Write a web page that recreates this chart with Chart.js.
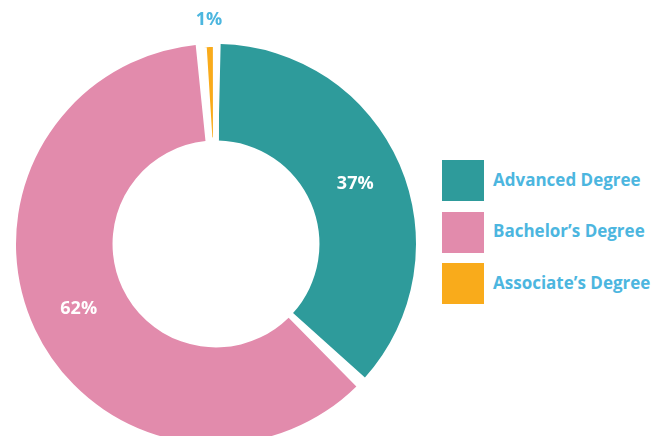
<!DOCTYPE html>
<html lang="en">
<head>
  <meta charset="UTF-8" />
  <title>Degree chart</title>
  <script src="https://cdn.jsdelivr.net/npm/chart.js"></script>
  <style>
    body {
      margin: 0;
      width: 667px;
      height: 436px;
      overflow: hidden;
      background: #fff;
      font-family: "Open Sans", sans-serif;
      position: relative;
    }
    .chart-box {
      position: absolute;
      left: 0;
      top: 0;
      width: 432px;
      height: 488px;
    }
    #legend {
      position: absolute;
      left: 442px;
      top: 160px;
    }
    .legend-item {
      display: flex;
      align-items: center;
      height: 41px;
      margin-bottom: 10.5px;
    }
    .legend-box {
      width: 42px;
      height: 41px;
      margin-right: 9px;
    }
    .legend-text {
      color: #4cb6df;
      font-weight: 700;
      font-size: 17px;
      margin-top: -3px;
    }
  </style>
</head>
<body>

  <div class="chart-box">
    <canvas id="degreeChart" width="432" height="488"></canvas>
  </div>
  <div id="legend"></div>

  <script>
    const labels = ['Advanced Degree', 'Bachelor\u2019s Degree', 'Associate\u2019s Degree'];
    const values = [37, 62, 1];
    const colors = ['#2e9b9b', '#e28bac', '#f9ab1b'];

    // persentase di atas tiap potongan
    const percentLabels = {
      id: 'percentLabels',
      afterDatasetsDraw(chart) {
        const ctx = chart.ctx;
        const arcs = chart.getDatasetMeta(0).data;
        ctx.save();
        ctx.font = '700 18px "Open Sans"';
        ctx.textAlign = 'center';
        ctx.textBaseline = 'middle';
        arcs.forEach((arc, i) => {
          const text = values[i] + '%';
          if (values[i] >= 5) {
            const p = arc.tooltipPosition();
            ctx.fillStyle = '#ffffff';
            ctx.fillText(text, p.x, p.y);
          } else {
            const mid = (arc.startAngle + arc.endAngle) / 2;
            const r = arc.outerRadius + 27;
            ctx.fillStyle = '#4cb6df';
            ctx.fillText(text, arc.x + Math.cos(mid) * r, arc.y + Math.sin(mid) * r);
          }
        });
        ctx.restore();
      }
    };

    const ctx = document.getElementById('degreeChart').getContext('2d');
    const degreeChart = new Chart(ctx, {
      type: 'doughnut',
      data: {
        labels: labels,
        datasets: [{
          data: values,
          backgroundColor: colors,
          borderColor: '#ffffff',
          borderWidth: [0, 0, 6],
          spacing: 6
        }]
      },
      options: {
        responsive: false,
        animation: false,
        cutout: '51%',
        layout: { padding: { left: 13, right: 13, top: 41, bottom: 41 } },
        plugins: {
          legend: { display: false },
          tooltip: { enabled: false }
        }
      },
      plugins: [percentLabels]
    });

    const legendEl = document.getElementById('legend');
    labels.forEach((label, i) => {
      const item = document.createElement('div');
      item.className = 'legend-item';
      item.innerHTML = `<div class="legend-box" style="background:${colors[i]}"></div><span class="legend-text">${label}</span>`;
      legendEl.appendChild(item);
    });
  </script>
</body>
</html>
